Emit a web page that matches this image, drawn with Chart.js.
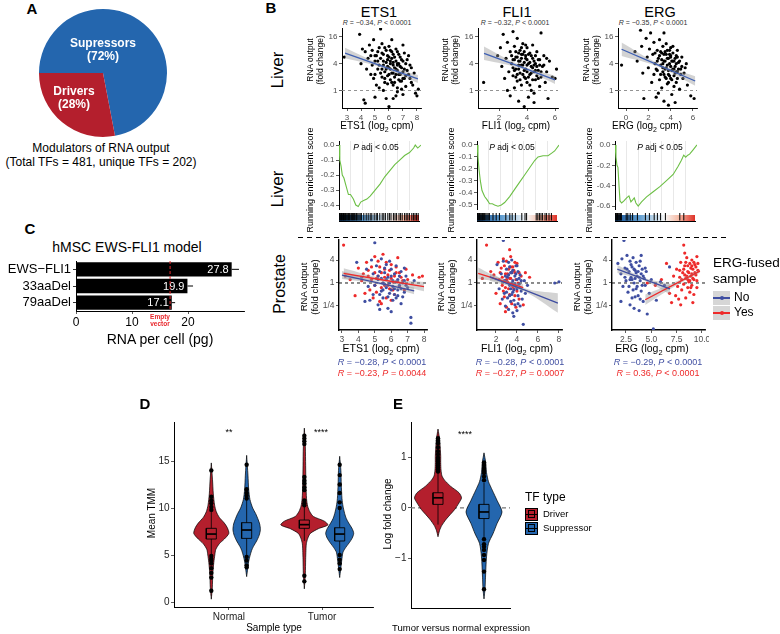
<!DOCTYPE html>
<html>
<head>
<meta charset="utf-8">
<title>RNA output modulators</title>
<script src="https://cdn.jsdelivr.net/npm/chart.js"></script>
<style>
    html, body { margin: 0; padding: 0; background: #fff; overflow: hidden; }
    body { font-family: "Liberation Sans", Arial, Helvetica, sans-serif; }
    #fig { position: relative; width: 780px; height: 634px; overflow: hidden; }
    #fig canvas { position: absolute; }
    .t { position: absolute; white-space: nowrap; transform: translate(-50%, -50%); color: #000; line-height: 1.12; text-align: center; }
    .key { position: absolute; }
</style>
</head>
<body>
<div id="fig"></div>
<script>
// ---- A: pie ----
const pieLabels = ['Supressors', 'Drivers'];
const pieShare = [72, 28];

// ---- C: hMSC bars ----
const models = ['EWS\u2212FLI1', '33aaDel', '79aaDel'];
const rnaPerCell = [27.8, 19.9, 17.1];
const rnaErr = [1.3, 1.0, 0.6];
const emptyVector = 16.8;

// ---- B row 1: liver scatter, [log2 cpm, log2 fold change] ----
const ets1Liver = [[2.8,2.5],[3.9,4.2],[4.1,3.1],[4.3,2.9],[4.0,2.0],[4.4,1.6],[4.2,-0.7],[4.3,-0.95],[4.6,3.4],[4.7,2.6],[4.8,1.9],[4.9,3.8],[5.0,2.2],[5.0,1.2],[5.1,0.4],[5.2,2.9],[5.2,1.6],[5.3,3.2],[5.3,0.2],[5.4,4.6],[5.4,2.4],[5.5,1.0],[5.5,3.5],[5.6,1.9],[5.6,2.7],[5.7,0.6],[5.7,1.4],[5.8,3.0],[5.8,2.1],[5.8,-0.6],[5.9,1.1],[5.9,2.6],[6.0,1.7],[6.0,-1.2],[6.0,3.3],[6.1,0.8],[6.1,2.2],[6.2,1.3],[6.2,2.9],[6.3,-0.6],[6.3,1.9],[6.3,0.4],[6.4,2.5],[6.4,1.0],[6.5,1.6],[6.5,3.1],[6.6,0.2],[6.6,2.0],[6.7,1.2],[6.7,2.7],[6.8,0.7],[6.8,1.8],[6.9,2.3],[6.9,0.1],[7.0,1.4],[7.0,3.4],[7.1,0.9],[7.2,2.0],[7.2,0.3],[7.3,1.5],[7.4,2.6],[7.5,0.9],[7.6,1.7],[7.7,0.4],[7.9,-0.2],[8.0,-0.4],[8.1,0.1],[7.0,-0.3],[6.5,-0.4],[5.0,-0.5],[4.9,0.9],[5.6,0.0],[6.2,3.8],[6.6,-0.1],
    [5.1,2.6],[5.3,1.9],[5.4,1.3],[5.5,2.8],[5.6,2.2],[5.7,3.2],[5.7,0.9],[5.8,1.6],[5.9,2.3],[5.9,0.5],[6.0,2.5],[6.0,1.2],[6.1,3.0],[6.1,1.6],[6.2,0.6],[6.2,2.4],[6.3,1.3],[6.3,2.7],[6.4,1.7],[6.4,0.6],[6.5,2.2],[6.5,1.2],[6.6,2.9],[6.6,1.5],[6.7,0.8],[6.7,2.0],[6.8,2.5],[6.8,1.2],[6.9,1.7],[6.9,0.7],[7.0,2.2],[7.1,1.6],[7.1,2.8],[7.2,1.1],[7.3,2.3],[7.4,1.2],[7.5,1.9],[7.6,0.6],[7.8,1.3],[5.2,2.2],[4.5,2.4],[4.7,1.2],[4.8,3.0],[5.0,2.6],[5.9,1.8],[6.3,2.1],[6.6,1.9],[7.0,0.9],[5.5,1.6],[6.1,2.0]];
const fli1Liver = [[0.9,0.6],[1.9,2.6],[2.1,3.2],[2.2,1.8],[2.3,4.2],[2.4,0.9],[2.5,2.4],[2.6,3.6],[2.7,1.4],[2.8,2.9],[2.8,-0.4],[2.9,2.0],[3.0,4.4],[3.0,1.1],[3.1,3.3],[3.1,0.2],[3.2,2.5],[3.2,1.6],[3.3,3.9],[3.3,0.7],[3.4,2.2],[3.4,-0.8],[3.5,3.0],[3.5,1.3],[3.6,2.7],[3.6,0.4],[3.7,1.9],[3.7,3.5],[3.8,1.0],[3.8,-1.2],[3.9,2.4],[3.9,1.6],[4.0,3.2],[4.0,0.6],[4.1,2.0],[4.1,-0.5],[4.2,1.2],[4.2,2.8],[4.3,1.8],[4.3,0.0],[4.4,2.4],[4.4,3.4],[4.5,1.4],[4.5,-0.9],[4.6,2.0],[4.6,0.8],[4.7,2.9],[4.8,1.5],[4.9,0.3],[4.9,2.3],[5.0,4.3],[5.0,1.0],[5.1,1.8],[5.2,2.6],[5.3,0.6],[5.4,1.4],[5.5,-0.6],[5.6,2.2],[5.8,1.0],[6.0,0.9],[6.1,1.6],[3.5,4.8],[4.5,-0.2],[2.6,0.0],[3.8,2.1],[3.2,2.9],[4.7,1.1],
    [2.9,2.6],[3.0,1.7],[3.1,2.3],[3.2,1.0],[3.3,2.5],[3.3,1.2],[3.4,2.8],[3.4,1.6],[3.5,2.2],[3.5,0.8],[3.6,3.2],[3.6,1.9],[3.7,1.2],[3.7,2.7],[3.8,2.9],[3.8,1.5],[3.9,0.9],[3.9,3.4],[4.0,2.3],[4.0,1.4],[4.1,2.7],[4.1,1.0],[4.2,2.1],[4.2,0.4],[4.3,2.6],[4.3,1.3],[4.4,1.7],[4.4,0.8],[4.5,2.2],[4.6,1.5],[4.6,2.6],[4.7,1.8],[4.8,2.3],[4.8,0.9],[4.9,1.9],[5.0,1.4],[5.2,1.9],[5.4,2.4],[3.0,2.3],[3.6,2.4],[4.0,1.9],[3.4,1.9],[4.5,1.9],[3.1,1.5],[3.9,2.6]];
const ergLiver = [[-0.4,1.9],[0.8,2.9],[1.0,2.2],[1.3,4.5],[1.4,3.3],[1.5,1.3],[1.6,-0.6],[1.8,3.9],[1.9,2.5],[2.0,1.7],[2.1,3.1],[2.2,4.3],[2.3,0.6],[2.4,2.7],[2.5,3.6],[2.5,1.2],[2.6,2.0],[2.7,-0.5],[2.8,3.0],[2.8,1.5],[2.9,2.4],[3.0,0.8],[3.0,3.8],[3.1,1.9],[3.2,2.8],[3.2,0.2],[3.3,1.4],[3.3,3.3],[3.4,2.2],[3.4,-0.8],[3.5,1.0],[3.5,2.9],[3.6,1.7],[3.6,3.5],[3.7,0.5],[3.7,2.4],[3.8,1.2],[3.8,-1.1],[3.9,2.0],[3.9,3.0],[4.0,0.9],[4.0,2.6],[4.1,1.5],[4.1,-0.3],[4.2,2.2],[4.2,3.3],[4.3,1.1],[4.3,0.3],[4.4,1.8],[4.5,2.6],[4.5,0.6],[4.6,1.4],[4.7,2.1],[4.8,0.1],[4.9,1.6],[5.0,2.5],[5.1,0.9],[5.3,1.7],[5.5,0.4],[5.8,-0.4],[6.1,-0.6],[4.4,-0.9],[2.9,-0.2],[3.4,4.3],[4.6,3.0],
    [2.6,2.8],[2.8,2.2],[3.0,2.6],[3.1,1.2],[3.2,2.3],[3.3,2.0],[3.4,2.7],[3.4,1.2],[3.5,2.2],[3.6,2.7],[3.6,0.9],[3.7,1.9],[3.7,3.0],[3.8,2.4],[3.8,1.5],[3.9,2.7],[3.9,1.1],[4.0,1.8],[4.0,3.2],[4.1,2.2],[4.1,0.8],[4.2,1.6],[4.2,2.8],[4.3,2.2],[4.3,1.6],[4.4,2.4],[4.4,1.3],[4.5,2.0],[4.6,2.5],[4.6,0.9],[4.7,1.6],[4.8,2.2],[4.9,1.2],[5.0,1.8],[5.2,1.3],[5.4,2.0],[2.7,1.6],[3.1,2.9],[3.5,1.6],[4.0,2.5],[3.3,1.7],[4.5,1.4],[3.8,0.6]];

// linear fits (x, fitted log2 FC, half band width)
const ets1LiverFit = { x: [2.86, 5.5, 8.07], y: [2.8, 1.82, 0.86], se: [0.4, 0.12, 0.3] };
const fli1LiverFit = { x: [0.93, 3.5, 6.0], y: [2.78, 1.78, 0.79], se: [0.5, 0.12, 0.3] };
const ergLiverFit = { x: [-0.4, 2.9, 6.2], y: [3.08, 1.9, 0.71], se: [0.5, 0.12, 0.35] };

// ---- B row 2: running enrichment score ----
const ets1Rank = [0,1,2.5,4,6,8.5,11.5,14,17.5,20.5,23.5,26.5,30,34,38,44,50,56,62,68,74,80,86,91,93,96,100];
const ets1ES = [0,-0.1,-0.14,-0.2,-0.22,-0.27,-0.33,-0.33,-0.36,-0.40,-0.41,-0.38,-0.37,-0.36,-0.34,-0.30,-0.26,-0.21,-0.17,-0.13,-0.10,-0.07,-0.05,-0.02,0.0,-0.02,0.0];
const fli1Rank = [0,1.2,2.4,4.1,6.1,9.3,12.6,15.4,18.7,21.5,25.6,29.7,33.7,39.8,45.9,52,58.1,64.2,70.3,74.4,80.5,86.6,90.7,94.7,100];
const fli1ES = [0,-0.1,-0.2,-0.3,-0.38,-0.43,-0.46,-0.49,-0.49,-0.5,-0.51,-0.5,-0.48,-0.43,-0.37,-0.31,-0.25,-0.19,-0.13,-0.1,-0.09,-0.09,-0.07,-0.05,0];
const ergRank = [0,1.2,2.4,3.6,4.9,6.1,8.1,10.9,14.2,17,19.4,21.5,23.5,25.5,28.3,32.4,38.5,46.6,54.7,62.8,70.9,77,81,83.8,86.2,88.7,91,95,100];
const ergES = [0,-0.12,-0.2,-0.22,-0.4,-0.55,-0.57,-0.55,-0.52,-0.5,-0.56,-0.54,-0.52,-0.57,-0.6,-0.56,-0.51,-0.46,-0.41,-0.35,-0.29,-0.21,-0.15,-0.1,-0.12,-0.1,-0.09,-0.05,0];
const ets1Hits = [0,0.8,1.6,2.4,3.2,4,4.8,5.6,6.4,7.2,8,9,10,11,12,13,14,15.5,17,18,19.5,21,22,23.5,25,26.5,28,31,34,36.5,39,41,44,46.5,48,51,54,56,58,61,63,65,68,70,72,75,77,79,82,84,86,88,91,93,95,97,99];
const fli1Hits = [0,0.8,1.6,2.4,3.2,4,5,6,7,8,9.5,11,12.5,14,15.5,20,24,28,36,41,44,48,56,60,62,74,76,78,80,82,85,87,90,93];
const ergHits = [0,0.8,1.6,2.4,3.2,4,5,6,7,8,14,16,19,22,28,38,43,49,53,57,63,81,86];
const gseaGrid = [14.3, 28.6, 42.9, 57.1, 71.4, 85.7];

// ---- B row 3: prostate scatter, ERG-fused No / Yes ----
const ets1ProNo = [[3.9,1.8],[4.2,0.5],[4.4,-1.6],[4.5,1.2],[4.6,-0.3],[4.8,2.0],[4.9,0.8],[4.9,-1.0],[5.0,3.5],[5.0,-0.2],[5.1,1.5],[5.2,-1.9],[5.2,0.3],[5.3,1.0],[5.4,-0.7],[5.4,2.1],[5.5,0.0],[5.5,-1.3],[5.6,0.9],[5.7,-0.4],[5.7,1.6],[5.8,-2.2],[5.8,0.5],[5.9,-0.9],[6.0,1.2],[6.0,-2.5],[6.1,0.2],[6.1,-1.5],[6.2,0.8],[6.2,-0.5],[6.3,1.5],[6.4,-1.1],[6.4,0.3],[6.5,-0.2],[6.6,1.0],[6.6,-1.8],[6.7,0.0],[6.8,-0.8],[6.9,0.6],[7.0,-0.4],[7.2,-3.0],[7.2,-3.5],[7.4,0.2],[4.7,-1.5],[5.3,-2.3],[6.3,-1.3],[5.9,1.9],[6.8,1.3],
    [5.2,0.6],[5.4,0.4],[5.5,-0.6],[5.6,-0.1],[5.7,0.3],[5.8,-1.2],[5.9,0.0],[6.0,-0.6],[6.0,0.6],[6.1,-0.3],[6.2,-1.0],[6.3,0.1],[6.4,-0.6],[6.5,0.6],[6.6,-0.5],[6.7,-1.2],[6.8,0.2],[6.9,-0.2],[5.3,-1.0],[5.6,1.3]];
const ets1ProYes = [[3.1,3.3],[3.2,0.6],[3.5,0.3],[3.8,-1.1],[4.0,1.3],[4.2,0.2],[4.5,1.8],[4.6,0.6],[4.7,-0.6],[4.8,1.4],[4.9,-1.3],[5.0,2.3],[5.1,0.4],[5.1,-0.8],[5.2,1.9],[5.3,-1.6],[5.4,0.9],[5.5,2.5],[5.6,-0.2],[5.6,1.2],[5.7,-1.3],[5.8,0.7],[5.9,-0.5],[6.0,1.6],[6.1,0.1],[6.2,-1.0],[6.3,0.9],[6.4,2.2],[6.5,-0.3],[6.6,0.5],[6.8,-0.6],[6.9,1.2],[7.0,0.3],[7.3,0.7],[7.7,0.5],[7.9,0.6],[5.4,-1.8],[4.4,-0.9],[6.0,-1.5],
    [4.3,0.8],[4.6,1.1],[4.8,0.3],[5.0,0.9],[5.2,0.6],[5.3,1.4],[5.4,-0.4],[5.6,0.5],[5.7,1.8],[5.8,-0.2],[5.9,1.1],[6.0,0.4],[6.1,-0.6],[6.2,0.6],[6.3,1.4],[6.4,0.1],[6.5,0.9],[6.7,0.2],[5.0,-0.2],[5.5,0.0]];
const fli1ProNo = [[2.1,1.6],[2.3,-0.5],[2.5,0.8],[2.6,-1.4],[2.7,3.7],[2.7,1.9],[2.8,0.2],[2.9,-2.0],[3.0,1.2],[3.0,-0.8],[3.1,0.5],[3.2,-2.3],[3.2,1.8],[3.3,-0.2],[3.4,0.9],[3.4,-1.6],[3.5,2.0],[3.5,0.0],[3.6,-2.6],[3.6,1.1],[3.7,-0.6],[3.8,0.6],[3.8,-1.9],[3.9,1.5],[3.9,-0.3],[4.0,0.3],[4.0,-2.4],[4.1,1.0],[4.1,-1.1],[4.2,-0.1],[4.3,-2.0],[4.3,0.7],[4.4,-0.7],[4.5,-1.4],[4.6,-3.6],[4.7,0.2],[4.8,-0.9],[5.0,-0.2],[7.6,0.0],[8.0,0.1],[3.1,-1.3],[3.7,-2.9],
    [2.9,0.6],[3.0,0.1],[3.2,0.7],[3.3,-1.1],[3.4,-0.5],[3.5,0.9],[3.5,-1.0],[3.6,0.2],[3.7,-1.5],[3.8,-0.1],[3.9,0.8],[4.0,-0.5],[4.0,1.5],[4.1,-1.8],[4.2,0.4],[4.3,-0.4],[4.4,0.2],[3.3,1.4],[3.6,-0.8],[2.8,-0.9]];
const fli1ProYes = [[0.7,0.4],[1.1,3.3],[1.5,1.0],[1.8,0.7],[2.0,-0.9],[2.2,1.8],[2.3,0.3],[2.4,-1.8],[2.5,1.3],[2.6,-0.2],[2.7,2.1],[2.8,-1.2],[2.9,0.8],[3.0,1.9],[3.0,-2.1],[3.1,0.1],[3.2,1.2],[3.3,-1.0],[3.4,2.3],[3.4,0.4],[3.5,-1.8],[3.6,1.4],[3.7,-0.5],[3.8,0.9],[3.9,-2.1],[4.0,1.7],[4.1,0.0],[4.2,-1.4],[4.4,0.6],[4.6,-1.9],[4.8,0.9],[5.2,0.5],[2.9,-2.5],[3.3,2.9],
    [2.4,0.9],[2.6,0.5],[2.8,1.5],[2.9,-0.4],[3.1,0.8],[3.2,-0.5],[3.3,0.4],[3.5,0.9],[3.6,-0.3],[3.7,1.1],[3.8,-1.1],[3.9,0.3],[4.0,-0.7],[4.2,0.9],[2.7,-0.7],[3.4,1.4],[3.0,0.3],[3.8,1.8]];
const ergProNo = [[1.7,1.7],[2.0,0.8],[2.1,2.1],[2.2,-0.3],[2.3,3.7],[2.4,1.3],[2.5,0.2],[2.6,2.4],[2.7,-0.8],[2.8,1.0],[2.9,1.9],[2.9,-1.9],[3.0,0.5],[3.1,1.4],[3.1,-1.3],[3.2,2.2],[3.3,0.0],[3.3,-2.2],[3.4,1.1],[3.5,-0.5],[3.5,1.8],[3.6,0.6],[3.7,-1.1],[3.8,1.5],[3.8,-2.4],[3.9,0.2],[4.0,-0.7],[4.1,1.2],[4.2,-1.6],[4.3,0.4],[4.4,-0.2],[4.5,1.0],[4.6,-2.7],[4.8,-0.9],[5.0,0.3],[5.2,-4.0],[5.5,-1.5],[5.9,0.1],[6.3,-0.2],[6.8,1.4],[2.0,-1.6],[4.0,2.4],
    [2.4,0.5],[2.6,1.2],[2.8,-0.3],[3.0,1.6],[3.1,0.3],[3.2,-0.6],[3.3,1.2],[3.4,0.4],[3.5,0.9],[3.6,-0.3],[3.7,1.0],[3.8,0.5],[3.9,-1.4],[4.0,0.8],[4.1,-0.2],[4.2,0.6],[4.4,1.3],[2.9,0.3],[3.4,-1.2],[3.9,1.9]];
const ergProYes = [[4.6,0.0],[5.4,-0.2],[6.0,0.3],[6.5,1.7],[6.8,-0.9],[7.0,-1.7],[7.2,0.6],[7.4,-1.1],[7.5,1.2],[7.6,-0.3],[7.8,0.5],[7.9,1.8],[7.9,-1.9],[8.0,-0.6],[8.1,0.9],[8.2,3.3],[8.2,-0.1],[8.3,1.5],[8.4,-1.3],[8.4,0.4],[8.5,2.2],[8.6,-0.4],[8.6,1.0],[8.7,0.1],[8.8,1.7],[8.8,-0.8],[8.9,0.6],[9.0,2.0],[9.0,-0.2],[9.1,1.2],[9.2,0.3],[9.2,-1.0],[9.3,1.6],[9.4,0.7],[9.5,2.3],[9.5,-0.4],[9.6,1.1],[9.1,-1.7],[8.3,2.6],[7.7,-1.4],
    [8.0,0.3],[8.2,1.2],[8.3,0.7],[8.5,0.6],[8.6,1.5],[8.7,0.9],[8.8,0.2],[8.9,1.3],[9.0,0.8],[9.1,0.4],[9.2,1.8],[9.3,0.9],[9.4,1.4],[9.5,0.2],[8.4,1.8],[8.9,-0.4],[7.8,1.1],[9.6,1.7],[9.0,1.5],[8.6,0.3]];

const ets1ProNoFit = { x: [3.0, 5.2, 7.4], y: [0.69, 0.0, -0.69], se: [0.35, 0.12, 0.3] };
const ets1ProYesFit = { x: [3.1, 5.5, 8.0], y: [0.83, 0.26, -0.32], se: [0.45, 0.15, 0.4] };
const fli1ProNoFit = { x: [1.4, 4.7, 7.9], y: [0.54, -0.6, -1.75], se: [0.35, 0.15, 0.85] };
const fli1ProYesFit = { x: [0.3, 2.45, 4.6], y: [0.84, 0.22, -0.4], se: [0.5, 0.15, 0.3] };
const ergProNoFit = { x: [1.64, 4.2, 6.84], y: [1.21, 0.36, -0.52], se: [0.35, 0.12, 0.45] };
const ergProYesFit = { x: [4.4, 7.1, 9.8], y: [-1.46, -0.21, 1.03], se: [0.45, 0.2, 0.15] };

// ---- D: mean TMM violins (levels, relative density) ----
const sampleTypes = ['Normal', 'Tumor'];
const nDrvY = [0.3,1.5,3,4.2,5,5.6,6.2,6.7,7.3,7.9,8.4,9,9.6,10.3,11.5,13,14.8];
const nDrvD = [0,1,1.5,2.5,3.5,4.5,8,13,17.5,16,13,8,5,3.3,2,1.2,0];
const nSupY = [2.7,3.5,4.3,4.9,5.5,5.9,6.5,7.1,7.7,8.3,8.9,9.4,10,10.9,12,13.5,15.6];
const nSupD = [0,1,2,3.3,5,6.7,10,12.5,13.7,13,11,9,6,3.3,2,1.3,0];
const tDrvY = [1.4,3,4.5,5.5,6.2,6.8,7.3,7.8,8.2,8.6,9.1,9.6,10.2,11,12.5,14.5,16.5,18.5];
const tDrvD = [0,1,1.3,1.6,2,3.5,6,14,23.5,20,9,5.5,3.3,2.2,1.6,1.3,1,0];
const tSupY = [2.6,3.5,4.4,5.3,5.8,6.3,6.8,7.3,7.8,8.4,8.9,9.4,10.2,11,12.5,14,15.5];
const tSupD = [0,1,2,3.3,6,9.5,12.5,14,12.5,9,6.5,5,3.3,2.3,1.6,1.2,0];
// box: [q1, median, q3], whiskers [low, high]
const nDrvBox = [6.7, 7.23, 7.84], nDrvWhisk = [5.0, 9.6];
const nSupBox = [6.77, 7.66, 8.44], nSupWhisk = [4.9, 10.9];
const tDrvBox = [7.84, 8.23, 8.72], tDrvWhisk = [6.5, 10.1];
const tSupBox = [6.49, 7.23, 7.9], tSupWhisk = [4.9, 9.9];
const nDrvOut = [14.0,11.2,10.8,10.5,10.1,9.8,4.9,4.6,4.4,4.1,3.6,3.1,2.6,1.2];
const nSupOut = [14.6,12.0,11.6,11.3,11.0,4.8,4.4,3.9,3.7];
const tDrvOut = [17.7,17.4,17.1,16.8,13.3,12.9,12.6,12.2,11.9,10.8,10.5,10.3,2.8,2.2];
const tSupOut = [14.6,13.5,12.5,11.6,10.6,10.0,5.0,4.5,4.1,3.5];

// ---- E: log fold change tumour vs normal ----
const eDrvY = [-0.57,-0.45,-0.35,-0.22,-0.03,0.1,0.2,0.3,0.43,0.55,0.63,0.75,0.9,1.02,1.2,1.35,1.56];
const eDrvD = [0,1.5,3.7,8.3,16.7,21,23.5,21,12.5,6.5,4,3,2.7,2.7,2.2,1.7,0];
const eSupY = [-1.8,-1.6,-1.37,-0.97,-0.7,-0.51,-0.31,-0.08,0.15,0.35,0.52,0.7,0.9,1.09];
const eSupD = [0,1,1.5,2.5,4.5,9,13,18,13,8.3,4.5,2.5,1.7,0];
const eDrvBox = [0.07, 0.2, 0.3], eDrvWhisk = [-0.33, 0.7];
const eSupBox = [-0.21, -0.08, 0.07], eSupWhisk = [-0.6, 0.5];
const eDrvOut = [1.38,1.33,1.28,1.2,1.12,1.06,1.0,0.96,0.92,0.88,0.84,0.8,0.76,0.72];
const eSupOut = [0.9,0.85,0.79,0.74,0.69,0.62,0.55,-0.62,-0.72,-0.77,-0.83,-0.93,-1.03,-1.26,-1.61];

const RED = '#b41f2d', BLUE = '#2466ae';
const NO_COL = '#3f4ea1', YES_COL = '#ee2a2a';

// ================= helpers =================
Chart.defaults.font.family = '"Liberation Sans", Arial, Helvetica, sans-serif';
const fig = document.getElementById('fig');

function T(html, x, y, size, css) {
    const d = document.createElement('div');
    d.className = 't';
    d.innerHTML = html;
    d.style.cssText += 'left:' + x + 'px;top:' + y + 'px;font-size:' + size + 'px;' + (css || '');
    fig.appendChild(d);
    return d;
}
function Rot(html, x, y, size, css) {
    return T(html, x, y, size, 'transform:translate(-50%,-50%) rotate(-90deg);' + (css || ''));
}
function Lft(html, x, y, size, css) {
    return T(html, x, y, size, 'transform:translate(0,-50%);text-align:left;' + (css || ''));
}
function box(x, y, w, h, css) {
    const d = document.createElement('div');
    d.className = 'key';
    d.style.cssText = 'left:' + x + 'px;top:' + y + 'px;width:' + w + 'px;height:' + h + 'px;' + css;
    fig.appendChild(d);
    return d;
}

// plot = [left, top, right, bottom] of the chart area on the page
function makeChart(plot, yw, xh, type, data, scales, plugins, extra) {
    const pad = 4;
    const w = plot[2] - plot[0] + yw + pad, h = plot[3] - plot[1] + xh + pad;
    const c = document.createElement('canvas');
    c.width = w; c.height = h;
    c.style.left = (plot[0] - yw) + 'px';
    c.style.top = (plot[1] - pad) + 'px';
    fig.appendChild(c);
    return new Chart(c, {
        type: type, data: data, plugins: plugins || [],
        options: Object.assign({
            responsive: false, animation: false, devicePixelRatio: 1,
            layout: { padding: { top: pad, right: pad, left: 0, bottom: 0 } },
            plugins: { legend: { display: false }, tooltip: { enabled: false } },
            scales: scales
        }, extra || {})
    });
}

function axis(pos, min, max, tickVals, size, opt) {
    opt = opt || {};
    return {
        type: 'linear', position: pos, min: min, max: max,
        afterBuildTicks: s => { s.ticks = tickVals.map(v => ({ value: v })); },
        afterFit: s => {
            if (pos === 'left') s.width = size; else s.height = size;
            s.paddingLeft = s.paddingRight = s.paddingTop = s.paddingBottom = 0;
        },
        grid: { drawOnChartArea: false, tickLength: 3, color: opt.tickColor || '#333', lineWidth: 0.8 },
        border: { color: opt.axisColor || '#000', width: opt.lw || 1 },
        ticks: { font: { size: opt.fs || 8 }, color: opt.color || '#4d4d4d', padding: 1.5,
                 maxRotation: 0, autoSkip: false, callback: opt.fmt || (v => v) }
    };
}

const foldLabel = { '-2': '1/4', '0': '1', '2': '4', '4': '16' };
const fmtFold = v => foldLabel[String(v)];

function pts(pairs) { return pairs.map(p => ({ x: p[0], y: p[1] })); }

function fitSets(f, color) {
    return [
        { data: f.x.map((v, i) => ({ x: v, y: f.y[i] + f.se[i] })), showLine: true, borderWidth: 0, pointRadius: 0,
          fill: '+1', backgroundColor: 'rgba(150,150,150,0.42)', tension: 0.4, order: 3 },
        { data: f.x.map((v, i) => ({ x: v, y: f.y[i] - f.se[i] })), showLine: true, borderWidth: 0, pointRadius: 0,
          fill: false, tension: 0.4, order: 3 },
        { data: f.x.map((v, i) => ({ x: v, y: f.y[i] })), showLine: true, borderColor: color, borderWidth: 1.3,
          pointRadius: 0, order: 2 }
    ];
}

function scatterPanel(c) {
    const ds = [{ data: [{ x: c.xr[0], y: 0 }, { x: c.xr[1], y: 0 }], showLine: true, borderColor: c.refColor,
                  borderWidth: 0.9, borderDash: [3, 3], pointRadius: 0, order: 5 }];
    c.groups.forEach(g => ds.push({ data: pts(g.pts), pointRadius: 1.6, backgroundColor: g.color, borderWidth: 0, order: 4 }));
    c.fits.forEach(f => fitSets(f.fit, f.color).forEach(d => ds.push(d)));
    makeChart(c.plot, c.yw, c.xh, 'scatter', { datasets: ds }, {
        x: axis('bottom', c.xr[0], c.xr[1], c.xt, c.xh, { fs: c.fs, fmt: c.xfmt, lw: c.lw }),
        y: axis('left', c.yr[0], c.yr[1], c.yt, c.yw, { fs: c.fs, fmt: fmtFold, lw: c.lw })
    });
}

const rankBar = {
    id: 'rankBar',
    beforeDatasetsDraw(chart) {
        const a = chart.chartArea, ctx = chart.ctx;
        const g = ctx.createLinearGradient(a.left, 0, a.right, 0);
        g.addColorStop(0, '#134f93');
        g.addColorStop(0.3, '#5d9bcf');
        g.addColorStop(0.5, '#c6dced');
        g.addColorStop(0.62, '#f7f7f7');
        g.addColorStop(0.8, '#f6b8a2');
        g.addColorStop(1, '#de3128');
        ctx.save();
        ctx.fillStyle = g;
        ctx.fillRect(a.left, a.bottom - 6, a.right - a.left, 6);
        ctx.restore();
    }
};

function gseaPanel(left, yr, yt, rank, es, hits) {
    const right = left + 82;
    makeChart([left, 141, right, 210], 22, 0, 'scatter', {
        datasets: [{ data: rank.map((v, i) => ({ x: v, y: es[i] })), showLine: true, borderColor: '#6cbf45',
                     borderWidth: 1.1, pointRadius: 0 }]
    }, {
        x: { type: 'linear', min: 0, max: 100,
             afterBuildTicks: s => { s.ticks = gseaGrid.map(v => ({ value: v })); },
             afterFit: s => { s.height = 0; s.paddingLeft = s.paddingRight = 0; },
             grid: { color: '#e8e8e8', drawTicks: false, lineWidth: 1 }, border: { display: false },
             ticks: { display: false } },
        y: axis('left', yr[0], yr[1], yt, 22, { fmt: v => v.toFixed(1) })
    });
    makeChart([left, 211, right, 227], 22, 0, 'scatter', {
        datasets: [{ data: hits.map(v => ({ x: v, y: 0.69 })), pointStyle: 'line', pointRotation: 90, rotation: 90,
                     pointRadius: 5, borderColor: '#000', pointBorderColor: '#000', borderWidth: 1, pointBorderWidth: 1 }]
    }, {
        x: Object.assign(axis('bottom', 0, 100, [], 0), { grid: { display: false } }),
        y: Object.assign(axis('left', 0, 1, [], 22), { grid: { display: false } })
    }, [rankBar]);
}

function violinSets(center, ys, dens, scale, color, bx, whisk, outl, half) {
    const rightSide = ys.map((y, i) => ({ x: center + dens[i] * scale, y: y }));
    const leftSide = ys.map((y, i) => ({ x: center - dens[i] * scale, y: y })).reverse();
    const poly = rightSide.concat(leftSide);
    poly.push(rightSide[0]);
    return [
        { data: poly, showLine: true, fill: 'shape', backgroundColor: color, borderColor: '#000', borderWidth: 0.7,
          pointRadius: 0, tension: 0.25, order: 5 },
        { data: [{ x: center, y: whisk[0] }, { x: center, y: whisk[1] }], showLine: true, borderColor: '#000',
          borderWidth: 0.8, pointRadius: 0, order: 4 },
        { data: [{ x: center - half, y: bx[0] }, { x: center + half, y: bx[0] }, { x: center + half, y: bx[2] },
                 { x: center - half, y: bx[2] }, { x: center - half, y: bx[0] }],
          showLine: true, fill: 'shape', backgroundColor: color, borderColor: '#000', borderWidth: 0.9, pointRadius: 0, order: 3 },
        { data: [{ x: center - half, y: bx[1] }, { x: center + half, y: bx[1] }], showLine: true, borderColor: '#000',
          borderWidth: 1.7, pointRadius: 0, order: 2 },
        { data: outl.map(y => ({ x: center, y: y })), pointRadius: 2.2, backgroundColor: '#000', borderWidth: 0, order: 1 }
    ];
}

// ================= A =================
T('A', 32, 9, 15, 'font-weight:bold;');
(function () {
    const c = document.createElement('canvas');
    c.width = 132; c.height = 132;
    c.style.left = '37px'; c.style.top = '7px';
    fig.appendChild(c);
    new Chart(c, {
        type: 'pie',
        data: { labels: pieLabels, datasets: [{ data: pieShare, backgroundColor: [BLUE, RED], borderWidth: 0 }] },
        options: { responsive: false, animation: false, devicePixelRatio: 1, rotation: -90,
                   layout: { padding: 2 }, plugins: { legend: { display: false }, tooltip: { enabled: false } } }
    });
})();
T(pieLabels[0] + '<br>(' + pieShare[0] + '%)', 103, 50, 12, 'color:#fff;font-weight:bold;');
T(pieLabels[1] + '<br>(' + pieShare[1] + '%)', 74, 98, 12, 'color:#fff;font-weight:bold;');
T('Modulators of RNA output<br>(Total TFs = 481, unique TFs = 202)', 101, 155, 12, 'line-height:1.2;');

// ================= C =================
T('C', 30, 229, 15, 'font-weight:bold;');
T('hMSC EWS-FLI1 model', 127, 248, 14);
const barExtras = {
    id: 'barExtras',
    afterDatasetsDraw(chart) {
        const ctx = chart.ctx, xs = chart.scales.x, ys = chart.scales.y, a = chart.chartArea;
        ctx.save();
        rnaPerCell.forEach((v, i) => {
            const y = ys.getPixelForValue(i), x = xs.getPixelForValue(v), xe = xs.getPixelForValue(v + rnaErr[i]);
            ctx.strokeStyle = '#000'; ctx.lineWidth = 1;
            ctx.beginPath(); ctx.moveTo(x, y); ctx.lineTo(xe, y); ctx.stroke();
            ctx.fillStyle = '#fff'; ctx.font = '11px "Liberation Sans", Arial, sans-serif';
            ctx.textAlign = 'right'; ctx.textBaseline = 'middle';
            ctx.fillText(v.toFixed(1), x - 3, y + 0.5);
        });
        const xv = xs.getPixelForValue(emptyVector);
        ctx.strokeStyle = '#e8262b'; ctx.lineWidth = 1; ctx.setLineDash([3, 2]);
        ctx.beginPath(); ctx.moveTo(xv, a.top); ctx.lineTo(xv, a.bottom); ctx.stroke();
        ctx.restore();
    }
};
makeChart([76, 261, 244, 311], 76, 16, 'bar', {
    labels: models,
    datasets: [{ data: rnaPerCell, backgroundColor: '#000', categoryPercentage: 1, barPercentage: 0.86 }]
}, {
    x: axis('bottom', 0, 30, [0, 10, 20], 16, { fs: 12, color: '#000' }),
    y: { type: 'category', position: 'left',
         afterFit: s => { s.width = 76; s.paddingTop = s.paddingBottom = 0; },
         grid: { drawOnChartArea: false, offset: false, tickLength: 3, color: '#333' },
         border: { color: '#000' }, ticks: { font: { size: 13 }, color: '#000', padding: 2, autoSkip: false } }
}, [barExtras], { indexAxis: 'y' });
T('Empty<br>vector', 160, 320, 6.5, 'color:#e8262b;font-weight:bold;line-height:1.15;');
T('RNA per cell (pg)', 160, 340, 14);

// ================= B =================
T('B', 271, 8, 15, 'font-weight:bold;');
T('ETS1', 379, 12, 14.5); T('FLI1', 517, 12, 14.5); T('ERG', 660, 12, 14.5);
Rot('Liver', 278, 70, 17);
Rot('Liver', 278, 189, 17);
Rot('Prostate', 280, 284, 16);

const rTxt = (r, p) => '<i>R</i> = ' + r + ', <i>P</i> ' + p;
T(rTxt('\u22120.34', '&lt; 0.0001'), 377, 23, 7, 'color:#333;');
T(rTxt('\u22120.32', '&lt; 0.0001'), 515, 23, 7, 'color:#333;');
T(rTxt('\u22120.35', '&lt; 0.0001'), 653, 23, 7, 'color:#333;');

// row 1: liver
scatterPanel({ plot: [342, 28, 421, 108], yw: 18, xh: 14, xr: [2.64, 8.29], xt: [3, 4, 5, 6, 7, 8],
               yr: [-1.31, 4.67], yt: [0, 2, 4], fs: 8, refColor: '#888', lw: 1,
               groups: [{ pts: ets1Liver, color: '#000' }], fits: [{ fit: ets1LiverFit, color: '#3f60b3' }] });
scatterPanel({ plot: [478, 28, 558, 108], yw: 18, xh: 14, xr: [0.5, 6.21], xt: [2, 4, 6],
               yr: [-1.31, 4.67], yt: [0, 2, 4], fs: 8, refColor: '#888', lw: 1,
               groups: [{ pts: fli1Liver, color: '#000' }], fits: [{ fit: fli1LiverFit, color: '#3f60b3' }] });
scatterPanel({ plot: [618, 28, 697, 108], yw: 18, xh: 14, xr: [-0.72, 6.36], xt: [0, 2, 4, 6],
               yr: [-1.31, 4.67], yt: [0, 2, 4], fs: 8, refColor: '#888', lw: 1,
               groups: [{ pts: ergLiver, color: '#000' }], fits: [{ fit: ergLiverFit, color: '#3f60b3' }] });
Rot('RNA output<br>(fold change)', 316, 60, 8.5);
Rot('RNA output<br>(fold change)', 451, 60, 8.5);
Rot('RNA output<br>(fold change)', 592, 60, 8.5);
T('ETS1 (log<sub style="font-size:70%">2</sub> cpm)', 377, 127, 10);
T('FLI1 (log<sub style="font-size:70%">2</sub> cpm)', 516, 127, 10);
T('ERG (log<sub style="font-size:70%">2</sub> cpm)', 647, 127, 10);

// row 2: enrichment
gseaPanel(339, [-0.433, 0.027], [0, -0.1, -0.2, -0.3, -0.4], ets1Rank, ets1ES, ets1Hits);
gseaPanel(477, [-0.542, 0.033], [0, -0.1, -0.2, -0.3, -0.4, -0.5], fli1Rank, fli1ES, fli1Hits);
gseaPanel(615, [-0.639, 0.039], [0, -0.2, -0.4, -0.6], ergRank, ergES, ergHits);
Rot('Running enrichment score', 310, 180, 9);
Rot('Running enrichment score', 451, 180, 9);
Rot('Running enrichment score', 589, 180, 9);
T('<i>P</i> adj &lt; 0.05', 376, 148, 8.5);
T('<i>P</i> adj &lt; 0.05', 512, 148, 8.5);
T('<i>P</i> adj &lt; 0.05', 660, 148, 8.5);

// separator
box(298, 237, 432, 1.3, 'background:repeating-linear-gradient(to right,#000 0 5px,transparent 5px 9px);');

// row 3: prostate
scatterPanel({ plot: [339, 240, 427, 330], yw: 26, xh: 12, xr: [2.82, 8.18], xt: [3, 4, 5, 6, 7, 8],
               yr: [-4.09, 3.74], yt: [-2, 0, 2], fs: 8.5, refColor: '#000', lw: 1.4,
               groups: [{ pts: ets1ProNo, color: NO_COL }, { pts: ets1ProYes, color: YES_COL }],
               fits: [{ fit: ets1ProNoFit, color: NO_COL }, { fit: ets1ProYesFit, color: YES_COL }] });
scatterPanel({ plot: [477, 240, 562, 330], yw: 26, xh: 12, xr: [0.19, 8.29], xt: [2, 4, 6, 8],
               yr: [-4.09, 3.74], yt: [-2, 0, 2], fs: 8.5, refColor: '#000', lw: 1.4,
               groups: [{ pts: fli1ProNo, color: NO_COL }, { pts: fli1ProYes, color: YES_COL }],
               fits: [{ fit: fli1ProNoFit, color: NO_COL }, { fit: fli1ProYesFit, color: YES_COL }] });
scatterPanel({ plot: [612, 240, 705, 330], yw: 26, xh: 12, xr: [1.12, 10.3], xt: [2.5, 5, 7.5, 10],
               yr: [-4.09, 3.74], yt: [-2, 0, 2], fs: 8.5, refColor: '#000', lw: 1.4, xfmt: v => v.toFixed(1),
               groups: [{ pts: ergProNo, color: NO_COL }, { pts: ergProYes, color: YES_COL }],
               fits: [{ fit: ergProNoFit, color: NO_COL }, { fit: ergProYesFit, color: YES_COL }] });
Rot('RNA output<br>(fold change)', 310, 287, 9.5);
Rot('RNA output<br>(fold change)', 447, 287, 9.5);
Rot('RNA output<br>(fold change)', 583, 287, 9.5);
T('ETS1 (log<sub style="font-size:70%">2</sub> cpm)', 381, 350, 10.5);
T('FLI1 (log<sub style="font-size:70%">2</sub> cpm)', 517, 350, 10.5);
T('ERG (log<sub style="font-size:70%">2</sub> cpm)', 652, 350, 10.5);
T(rTxt('\u22120.28', '&lt; 0.0001'), 382, 362, 9, 'color:' + NO_COL + ';');
T(rTxt('\u22120.23', '= 0.0044'), 382, 373, 9, 'color:' + YES_COL + ';');
T(rTxt('\u22120.28', '&lt; 0.0001'), 520, 362, 9, 'color:' + NO_COL + ';');
T(rTxt('\u22120.27', '= 0.0007'), 520, 373, 9, 'color:' + YES_COL + ';');
T(rTxt('\u22120.29', '&lt; 0.0001'), 658, 362, 9, 'color:' + NO_COL + ';');
T(rTxt('0.36', '&lt; 0.0001'), 658, 373, 9, 'color:' + YES_COL + ';');

// legend
Lft('ERG-fused<br>sample', 713, 271, 13.5, 'line-height:1.15;');
[['No', NO_COL, 298], ['Yes', YES_COL, 313]].forEach(k => {
    box(713, k[2] - 7, 17, 14, 'background:#d6d6d6;');
    box(713, k[2] - 1, 17, 2, 'background:' + k[1] + ';');
    box(719.5, k[2] - 2, 4, 4, 'background:' + k[1] + ';border-radius:50%;');
    Lft(k[0], 734, k[2], 12);
});

// ================= D =================
T('D', 145, 404, 15, 'font-weight:bold;');
const dScale = 0.253 / 23.5, dHalf = 0.054, dodge = 0.19;
makeChart([174, 422, 373, 607], 22, 18, 'scatter', {
    datasets: [].concat(
        violinSets(1 - dodge, nDrvY, nDrvD, dScale, RED, nDrvBox, nDrvWhisk, nDrvOut, dHalf),
        violinSets(1 + dodge, nSupY, nSupD, dScale, BLUE, nSupBox, nSupWhisk, nSupOut, dHalf),
        violinSets(2 - dodge, tDrvY, tDrvD, dScale, RED, tDrvBox, tDrvWhisk, tDrvOut, dHalf),
        violinSets(2 + dodge, tSupY, tSupD, dScale, BLUE, tSupBox, tSupWhisk, tSupOut, dHalf))
}, {
    x: axis('bottom', 0.409, 2.548, [1, 2], 18, { fs: 10, color: '#222', fmt: v => sampleTypes[v - 1] }),
    y: axis('left', -0.53, 19.15, [0, 5, 10, 15], 22, { fs: 10, color: '#222' })
});
Rot('Mean TMM', 152, 513, 10);
T('Sample type', 274, 628, 10);
T('**', 229, 432, 9); T('****', 321, 432, 9);

// ================= E =================
T('E', 398, 404, 15, 'font-weight:bold;');
const eScale = 0.511 / 23.5, eHalf = 0.109;
makeChart([411, 422, 510, 608], 22, 4, 'scatter', {
    datasets: [{ data: [{ x: 0.413, y: 0 }, { x: 2.565, y: 0 }], showLine: true, borderColor: '#777', borderWidth: 1.2,
                 borderDash: [4, 3], pointRadius: 0, order: 6 }].concat(
        violinSets(1, eDrvY, eDrvD, eScale, RED, eDrvBox, eDrvWhisk, eDrvOut, eHalf),
        violinSets(2, eSupY, eSupD, eScale, BLUE, eSupBox, eSupWhisk, eSupOut, eHalf))
}, {
    x: Object.assign(axis('bottom', 0.413, 2.565, [], 4), { grid: { display: false } }),
    y: axis('left', -1.98, 1.70, [-1, 0, 1], 22, { fs: 10, color: '#222', fmt: v => (v < 0 ? '\u2212' + (-v) : '' + v) })
});
Rot('Log fold change', 388, 514, 10);
T('Tumor versus normal expression', 461, 628, 9.5);
T('****', 465, 434, 9);
Lft('TF type', 525, 498, 12);
[['Driver', RED, 514], ['Suppressor', BLUE, 528]].forEach(k => {
    box(525, k[2] - 6.5, 13, 13, 'background:' + k[1] + ';border:1px solid #000;box-sizing:border-box;');
    box(528, k[2] - 4, 7, 8, 'border:1px solid #000;box-sizing:border-box;');
    box(526, k[2] - 0.5, 11, 1.2, 'background:#000;');
    Lft(k[0], 543, k[2], 9.5);
});
</script>
</body>
</html>
